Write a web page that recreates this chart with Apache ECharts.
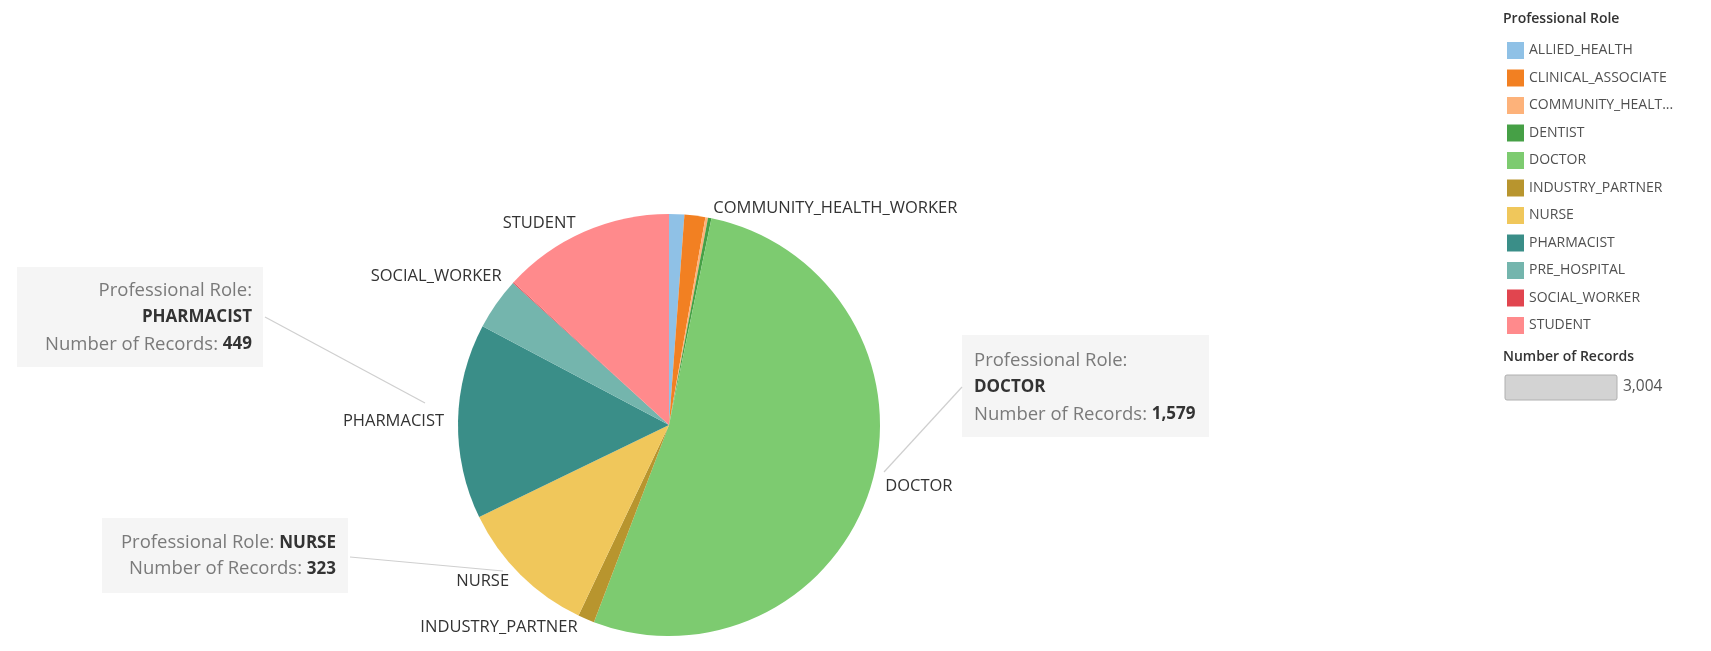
<!DOCTYPE html>
<html>
<head>
<meta charset="utf-8">
<script src="https://cdn.jsdelivr.net/npm/echarts@6/dist/echarts.min.js"></script>
<style>
  html, body { margin: 0; padding: 0; background: #fff; }
  #chart { width: 1711px; height: 651px; }
</style>
</head>
<body>
<div id="chart"></div>
<script>
// ---- data ----
const categories = ['ALLIED_HEALTH', 'CLINICAL_ASSOCIATE', 'COMMUNITY_HEALTH_WORKER', 'DENTIST', 'DOCTOR',
  'INDUSTRY_PARTNER', 'NURSE', 'PHARMACIST', 'PRE_HOSPITAL', 'SOCIAL_WORKER', 'STUDENT'];
const records = [35, 48, 6, 8, 1579, 38, 323, 449, 120, 2, 396];
const colors = ['#8FC1E6', '#F28022', '#FDB27A', '#46A046', '#7DCB70', '#B8952E', '#F0C75B',
  '#3A8E88', '#74B5AD', '#E1454F', '#FF8A8C'];
const labelledRoles = ['COMMUNITY_HEALTH_WORKER', 'DOCTOR', 'INDUSTRY_PARTNER', 'NURSE', 'PHARMACIST', 'SOCIAL_WORKER', 'STUDENT'];
const legendTitle = 'Professional Role';
const sizeLegendTitle = 'Number of Records';

// ---- helpers ----
const fmt = v => v.toLocaleString('en-US');
const valueOf = name => records[categories.indexOf(name)];
const total = records.reduce((a, b) => a + b, 0);
const FONT = '"Open Sans", "Noto Sans", sans-serif';

const pieData = categories.map((c, i) => ({
  name: c,
  value: records[i],
  itemStyle: { color: colors[i] },
  label: { show: labelledRoles.indexOf(c) >= 0 }
}));

// annotation boxes (layout only)
function annotation(box, textX, align, lines, line) {
  return [
    { type: 'rect', shape: { x: box[0], y: box[1], width: box[2], height: box[3] },
      style: { fill: '#f5f5f5' }, z: 1 },
    { type: 'text', x: textX, y: box[1] + box[4], z: 2,
      style: {
        text: lines, align: align, verticalAlign: 'top', font: '18px ' + FONT,
        fill: '#777', lineHeight: box[5],
        rich: {
          a: { fontSize: 18.5, fontFamily: FONT, fill: '#7a7a7a', lineHeight: box[5] },
          b: { fontSize: 17, fontFamily: FONT, fill: '#333', fontWeight: 'bold', lineHeight: box[5] }
        }
      } },
    { type: 'line', shape: { x1: line[0], y1: line[1], x2: line[2], y2: line[3] },
      style: { stroke: '#cfcfcf', lineWidth: 1.2 }, z: 2 }
  ];
}

const graphics = [].concat(
  annotation([17, 267, 246, 100, 10, 27], 252, 'right',
    '{a|Professional Role:}\n{b|PHARMACIST}\n{a|Number of Records: }{b|' + fmt(valueOf('PHARMACIST')) + '}',
    [265, 317, 425, 403]),
  annotation([102, 518, 246, 75, 12, 26], 336, 'right',
    '{a|Professional Role: }{b|NURSE}\n{a|Number of Records: }{b|' + fmt(valueOf('NURSE')) + '}',
    [350, 557, 503, 571]),
  annotation([962, 335, 247, 102, 12, 27], 974, 'left',
    '{a|Professional Role:}\n{b|DOCTOR}\n{a|Number of Records: }{b|' + fmt(valueOf('DOCTOR')) + '}',
    [962, 387, 884, 472]),
  [
    { type: 'text', x: 1503, y: 12, style: { text: legendTitle, font: '600 14px ' + FONT, fill: '#333' } },
    { type: 'text', x: 1503, y: 350, style: { text: sizeLegendTitle, font: '600 14px ' + FONT, fill: '#333' } },
    { type: 'rect', shape: { x: 1505, y: 375, width: 112, height: 25, r: 2 },
      style: { fill: '#d3d3d3', stroke: '#b0b0b0', lineWidth: 1 } },
    { type: 'text', x: 1623, y: 379, style: { text: fmt(total), font: '15.5px ' + FONT, fill: '#555' } }
  ]
);

const chart = echarts.init(document.getElementById('chart'));
chart.setOption({
  animation: false,
  backgroundColor: '#fff',
  legend: {
    orient: 'vertical',
    left: 1502,
    top: 37,
    itemWidth: 17,
    itemHeight: 17,
    itemGap: 10.5,
    icon: 'rect',
    selectedMode: false,
    data: categories,
    textStyle: { fontSize: 14, fontFamily: FONT, color: '#505050', width: 153, overflow: 'truncate', ellipsis: '...' }
  },
  graphic: graphics,
  series: [{
    type: 'pie',
    center: [669, 425],
    radius: 211,
    startAngle: 90,
    clockwise: true,
    avoidLabelOverlap: false,
    data: pieData,
    itemStyle: { borderWidth: 0 },
    label: { position: 'outside', fontSize: 16.5, fontFamily: FONT, color: '#333', formatter: '{b}' },
    labelLine: { show: false, length: 9, length2: 0 },
    emphasis: { disabled: true }
  }]
});
</script>
</body>
</html>
